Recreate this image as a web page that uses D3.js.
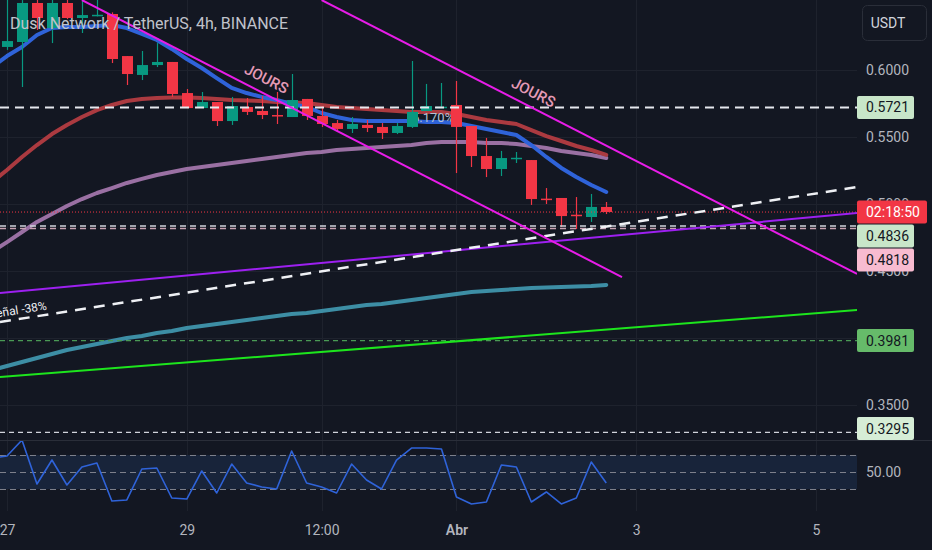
<!DOCTYPE html>
<html>
<head>
<meta charset="utf-8">
<script src="https://cdn.jsdelivr.net/npm/d3@7"></script>
<style>
    html, body { margin: 0; padding: 0; background: #131722; }
    svg { display: block; }
    text { font-family: Roboto, "Noto Sans", sans-serif; }
</style>
</head>
<body>
<div id="chart"></div>
<script>
const width = 932, height = 550;
const paneRight = 857;
const mainBottom = 440;
const oscTop = 441, oscBottom = 511;

const title = "Dusk Network / TetherUS, 4h, BINANCE";
const currency = "USDT";

// 4h bars, index 0 = 27 Mar 00:00
const opens  = [0.6172, 0.6209, 0.6500, 0.6313, 0.6500, 0.6388, 0.6405, 0.6418, 0.6104, 0.5963, 0.6037, 0.6060, 0.5828, 0.5716, 0.5761, 0.5619, 0.5724, 0.5694, 0.5664, 0.5649, 0.5784, 0.5657, 0.5604, 0.5560, 0.5590, 0.5575, 0.5530, 0.5575, 0.5694, 0.5720, 0.5739, 0.5582, 0.5358, 0.5261, 0.5340, 0.5328, 0.5040, 0.5045, 0.4920, 0.4903, 0.4978];
const highs  = [0.6560, 0.6522, 0.6560, 0.6560, 0.6540, 0.6522, 0.6530, 0.6430, 0.6104, 0.6142, 0.6201, 0.6060, 0.5858, 0.5836, 0.5761, 0.5799, 0.5791, 0.5806, 0.5836, 0.5970, 0.5784, 0.5731, 0.5627, 0.5649, 0.5627, 0.5604, 0.5604, 0.6067, 0.5896, 0.5903, 0.5918, 0.5582, 0.5493, 0.5396, 0.5388, 0.5328, 0.5119, 0.5045, 0.5052, 0.5075, 0.5015];
const lows   = [0.6150, 0.5873, 0.6299, 0.6201, 0.6380, 0.6276, 0.6400, 0.6052, 0.5888, 0.5925, 0.6022, 0.5799, 0.5716, 0.5716, 0.5582, 0.5590, 0.5664, 0.5634, 0.5597, 0.5649, 0.5627, 0.5575, 0.5537, 0.5530, 0.5537, 0.5485, 0.5522, 0.5567, 0.5694, 0.5716, 0.5231, 0.5276, 0.5201, 0.5209, 0.5306, 0.4993, 0.5000, 0.4828, 0.4813, 0.4866, 0.4925];
const closes = [0.6216, 0.6500, 0.6388, 0.6500, 0.6388, 0.6410, 0.6412, 0.6082, 0.5970, 0.6037, 0.6060, 0.5821, 0.5716, 0.5761, 0.5619, 0.5731, 0.5687, 0.5664, 0.5657, 0.5776, 0.5657, 0.5597, 0.5560, 0.5597, 0.5567, 0.5530, 0.5582, 0.5687, 0.5731, 0.5726, 0.5575, 0.5358, 0.5261, 0.5343, 0.5345, 0.5037, 0.5037, 0.4910, 0.4918, 0.4978, 0.4940];

// moving averages and oscillator start one bar earlier (index -1)
const maFast = [0.6022, 0.6104, 0.6172, 0.6261, 0.6313, 0.6321, 0.6321, 0.6328, 0.6336, 0.6313, 0.6269, 0.6224, 0.6157, 0.6082, 0.6015, 0.5940, 0.5866, 0.5828, 0.5799, 0.5776, 0.5746, 0.5724, 0.5679, 0.5649, 0.5627, 0.5619, 0.5619, 0.5619, 0.5619, 0.5612, 0.5612, 0.5604, 0.5582, 0.5560, 0.5537, 0.5515, 0.5440, 0.5351, 0.5269, 0.5201, 0.5142, 0.5090];
const maMid  = [0.5164, 0.5254, 0.5351, 0.5440, 0.5522, 0.5590, 0.5649, 0.5701, 0.5739, 0.5769, 0.5784, 0.5791, 0.5795, 0.5795, 0.5791, 0.5784, 0.5776, 0.5772, 0.5769, 0.5761, 0.5757, 0.5754, 0.5739, 0.5724, 0.5716, 0.5709, 0.5701, 0.5694, 0.5687, 0.5687, 0.5687, 0.5672, 0.5649, 0.5627, 0.5612, 0.5597, 0.5552, 0.5507, 0.5470, 0.5433, 0.5403, 0.5366];
const maSlow = [0.4642, 0.4716, 0.4791, 0.4866, 0.4925, 0.4985, 0.5037, 0.5082, 0.5119, 0.5157, 0.5187, 0.5216, 0.5239, 0.5261, 0.5276, 0.5291, 0.5306, 0.5321, 0.5336, 0.5351, 0.5366, 0.5381, 0.5388, 0.5403, 0.5410, 0.5418, 0.5425, 0.5433, 0.5440, 0.5455, 0.5463, 0.5463, 0.5463, 0.5455, 0.5455, 0.5448, 0.5433, 0.5418, 0.5396, 0.5381, 0.5366, 0.5343];
const maLong = [0.3761, 0.3791, 0.3821, 0.3851, 0.3881, 0.3910, 0.3933, 0.3955, 0.3978, 0.4000, 0.4015, 0.4037, 0.4052, 0.4075, 0.4090, 0.4104, 0.4119, 0.4134, 0.4149, 0.4164, 0.4179, 0.4187, 0.4201, 0.4216, 0.4231, 0.4246, 0.4254, 0.4269, 0.4284, 0.4299, 0.4313, 0.4328, 0.4343, 0.4351, 0.4358, 0.4366, 0.4373, 0.4377, 0.4381, 0.4384, 0.4388, 0.4396];
const rsi    = [66.5, 68.8, 87.6, 35.9, 64.1, 34.7, 55.9, 60.6, 15.9, 17.1, 53.5, 54.7, 19.4, 18.2, 51.2, 25.3, 59.4, 37.1, 32.4, 30.0, 74.7, 37.1, 32.4, 25.3, 59.4, 40.6, 30.0, 64.1, 78.2, 78.2, 77.1, 20.6, 12.4, 14.7, 58.2, 55.9, 14.7, 26.5, 12.4, 19.4, 61.8, 37.1];

const gridTicks = [0.60, 0.55, 0.50, 0.45, 0.40, 0.35];
const priceTicks = [0.60, 0.55, 0.50, 0.45, 0.35];
const timeTicks = [0, 12, 21, 30, 42, 54];
const timeLabels = ["27", "29", "12:00", "Abr", "3", "5"];
const oscLevels = [70, 50, 30];

const levels = [0.5721, 0.4836, 0.4818, 0.3981, 0.3295];
const countdown = "02:18:50";
const moveLabel = "5.170%";

// drawings: [bar index, price]
const channelTop = [[21.0, 0.6522], [56.74, 0.4478]];
const channelBottom = [[5.0, 0.6522], [41.05, 0.4455]];
const violetLine = [[-0.47, 0.4336], [56.74, 0.4933]];
const signalLine = [[-0.47, 0.4119], [56.74, 0.5127]];
const greenLine = [[-0.47, 0.3709], [56.74, 0.4209]];
const channelTag = "JOURS";
const signalTag = "Señal -38%";

const up = "#089981", down = "#f23645";
const axisText = "#b2b5be";
const gridColor = "#1e222d";

const x = d3.scaleLinear().domain([0, 54]).range([7, 816]);
const y = d3.scaleLinear().domain([0.35, 0.60]).range([405, 70]);
const yOsc = d3.scaleLinear().domain([30, 70]).range([489, 455]);

const svg = d3.select("#chart").append("svg")
    .attr("width", width)
    .attr("height", height);

svg.append("rect").attr("width", width).attr("height", height).attr("fill", "#131722");

const defs = svg.append("defs");
defs.append("clipPath").attr("id", "clip-main")
    .append("rect").attr("width", paneRight).attr("height", mainBottom);
defs.append("clipPath").attr("id", "clip-osc")
    .append("rect").attr("y", oscTop).attr("width", paneRight).attr("height", oscBottom - oscTop);

//grid
const grid = svg.append("g");
grid.selectAll("line.v").data(timeTicks).join("line")
    .attr("x1", d => Math.round(x(d)) + 0.5).attr("x2", d => Math.round(x(d)) + 0.5)
    .attr("y1", 0).attr("y2", oscBottom)
    .attr("stroke", gridColor);
grid.selectAll("line.h").data(gridTicks).join("line")
    .attr("x1", 0).attr("x2", paneRight)
    .attr("y1", d => Math.round(y(d)) + 0.5).attr("y2", d => Math.round(y(d)) + 0.5)
    .attr("stroke", gridColor);

svg.append("line")
    .attr("x1", 0).attr("x2", width)
    .attr("y1", mainBottom + 0.5).attr("y2", mainBottom + 0.5)
    .attr("stroke", "#2a2e39");

const main = svg.append("g").attr("clip-path", "url(#clip-main)");

//moving averages
const maLine = d3.line().x((d, k) => x(k - 1)).y(d => y(d));
const maStyles = [
    { data: maLong, color: "#3d8ea5" },
    { data: maSlow, color: "#9a70a3" },
    { data: maMid, color: "#ab3a40" },
    { data: maFast, color: "#2f63d9" }
];
main.selectAll("path.ma").data(maStyles).join("path")
    .attr("d", d => maLine(d.data))
    .attr("fill", "none")
    .attr("stroke", d => d.color)
    .attr("stroke-width", 4)
    .attr("stroke-linejoin", "round")
    .attr("stroke-linecap", "round");

main.append("text")
    .attr("x", 412).attr("y", 122)
    .attr("font-size", 13)
    .attr("fill", "#b4c0d4")
    .text(moveLabel);

//candles
const candles = opens.map((o, i) => ({ i, o, h: highs[i], l: lows[i], c: closes[i] }));
const bodyW = 11;
const candleG = main.append("g");
candleG.selectAll("line").data(candles).join("line")
    .attr("x1", d => Math.round(x(d.i)) + 0.5).attr("x2", d => Math.round(x(d.i)) + 0.5)
    .attr("y1", d => y(d.h)).attr("y2", d => y(d.l))
    .attr("stroke", d => d.c >= d.o ? up : down)
    .attr("stroke-width", 1.2);
candleG.selectAll("rect").data(candles).join("rect")
    .attr("x", d => Math.round(x(d.i)) + 0.5 - bodyW / 2)
    .attr("width", bodyW)
    .attr("y", d => y(Math.max(d.o, d.c)))
    .attr("height", d => Math.max(1.5, Math.abs(y(d.o) - y(d.c))))
    .attr("fill", d => d.c >= d.o ? up : down);

//horizontal levels
const levelStyles = [
    { stroke: "#e6e8ee", w: 2, dash: "9,6", box: "#c8e6c9", text: "#131722" },
    { stroke: "#d1d4dc", w: 1.5, dash: "6,4", box: "#c8e6c9", text: "#131722" },
    { stroke: "#c8a3b3", w: 1.5, dash: "6,4", box: "#f8bbd0", text: "#131722" },
    { stroke: "#4a9a55", w: 1.2, dash: "5,4", box: "#66bb6a", text: "#131722" },
    { stroke: "#d1d4dc", w: 1.2, dash: "5,4", box: "#d6edd6", text: "#131722" }
];
main.selectAll("line.level").data(levels).join("line")
    .attr("x1", 0).attr("x2", paneRight)
    .attr("y1", d => y(d)).attr("y2", d => y(d))
    .attr("stroke", (d, i) => levelStyles[i].stroke)
    .attr("stroke-width", (d, i) => levelStyles[i].w)
    .attr("stroke-dasharray", (d, i) => levelStyles[i].dash);

main.append("line")
    .attr("x1", 0).attr("x2", paneRight)
    .attr("y1", y(closes[closes.length - 1])).attr("y2", y(closes[closes.length - 1]))
    .attr("stroke", down)
    .attr("stroke-width", 1)
    .attr("stroke-dasharray", "1,2");

//drawings
const seg = d3.line().x(d => x(d[0])).y(d => y(d[1]));
const drawings = [
    { data: greenLine, color: "#1de51d", w: 2, dash: null },
    { data: violetLine, color: "#9d20f0", w: 2, dash: null },
    { data: signalLine, color: "#eef0f4", w: 2.5, dash: "11,8" },
    { data: channelBottom, color: "#e81ce8", w: 2, dash: null },
    { data: channelTop, color: "#e81ce8", w: 2, dash: null }
];
main.selectAll("path.draw").data(drawings).join("path")
    .attr("d", d => seg(d.data))
    .attr("fill", "none")
    .attr("stroke", d => d.color)
    .attr("stroke-width", d => d.w)
    .attr("stroke-dasharray", d => d.dash);

function tagOnLine(line, px, offset, label, anchor, size, weight, color) {
    const [a, b] = line;
    const x0 = x(a[0]), y0 = y(a[1]), x1 = x(b[0]), y1 = y(b[1]);
    const ang = Math.atan2(y1 - y0, x1 - x0);
    const py = y0 + (px - x0) * (y1 - y0) / (x1 - x0);
    const tx = px + Math.sin(ang) * offset;
    const ty = py - Math.cos(ang) * offset;
    main.append("text")
        .attr("transform", `translate(${tx},${ty}) rotate(${ang * 180 / Math.PI})`)
        .attr("text-anchor", anchor)
        .attr("font-size", size)
        .attr("font-weight", weight)
        .attr("fill", color)
        .text(label);
}
tagOnLine(channelBottom, 260, 9, channelTag, "middle", 15, 500, "#e59ab6");
tagOnLine(channelTop, 527, 9, channelTag, "middle", 15, 500, "#e59ab6");
tagOnLine(signalLine, 48, 5, signalTag, "end", 12, 400, "#eef0f4");

//oscillator pane
const osc = svg.append("g").attr("clip-path", "url(#clip-osc)");
osc.append("rect")
    .attr("x", 0).attr("width", paneRight)
    .attr("y", yOsc(70)).attr("height", yOsc(30) - yOsc(70))
    .attr("fill", "#18243a");
osc.selectAll("line.band").data(oscLevels).join("line")
    .attr("x1", 0).attr("x2", paneRight)
    .attr("y1", d => Math.round(yOsc(d)) + 0.5).attr("y2", d => Math.round(yOsc(d)) + 0.5)
    .attr("stroke", "#7d808b")
    .attr("stroke-dasharray", "6,4");
osc.append("path")
    .attr("d", d3.line().x((d, k) => x(k - 1)).y(d => yOsc(d))(rsi))
    .attr("fill", "none")
    .attr("stroke", "#2f63d9")
    .attr("stroke-width", 1.6)
    .attr("stroke-linejoin", "round");

//price axis
const axisG = svg.append("g")
    .attr("transform", `translate(${paneRight},0)`)
    .call(d3.axisRight(y).tickValues(priceTicks).tickFormat(d3.format(".4f")).tickSize(0).tickPadding(9));
axisG.select(".domain").remove();
axisG.selectAll("text").attr("font-size", 14).attr("fill", axisText).attr("font-family", "Roboto, sans-serif");

svg.append("text")
    .attr("x", paneRight + 9).attr("y", yOsc(50)).attr("dy", "0.35em")
    .attr("font-size", 14).attr("fill", axisText)
    .text(d3.format(".2f")(50));

//price label boxes, pushed apart like the platform does
const boxH = 23;
const boxes = levels.map((v, i) => ({
    text: d3.format(".4f")(v), cy: y(v), w: 57,
    fill: levelStyles[i].box, color: levelStyles[i].text
}));
boxes.push({ text: countdown, cy: y(closes[closes.length - 1]), w: 70, fill: down, color: "#ffffff" });
boxes.sort((a, b) => a.cy - b.cy);
let prevBottom = -Infinity;
boxes.forEach(b => {
    let top = Math.max(b.cy - boxH / 2, prevBottom + 1);
    if (top + boxH > mainBottom) top = mainBottom - boxH;
    b.top = top;
    prevBottom = top + boxH;
});
const boxG = svg.append("g").selectAll("g").data(boxes).join("g")
    .attr("transform", d => `translate(${paneRight},${d.top})`);
boxG.append("rect")
    .attr("width", d => d.w).attr("height", boxH)
    .attr("rx", 2)
    .attr("fill", d => d.fill);
boxG.append("text")
    .attr("x", 9).attr("y", boxH / 2).attr("dy", "0.36em")
    .attr("font-size", 14)
    .attr("fill", d => d.color)
    .text(d => d.text);

//time axis
const timeG = svg.append("g")
    .attr("transform", `translate(0,${oscBottom})`)
    .call(d3.axisBottom(x).tickValues(timeTicks).tickFormat((d, i) => timeLabels[i]).tickSize(0).tickPadding(14));
timeG.select(".domain").remove();
timeG.selectAll("text")
    .attr("font-size", 14)
    .attr("fill", axisText)
    .attr("font-family", "Roboto, sans-serif")
    .attr("font-weight", (d, i) => timeLabels[i] === "Abr" ? 600 : 400);

//currency button and legend
svg.append("rect")
    .attr("x", 862.5).attr("y", 5.5).attr("width", 64).attr("height", 35)
    .attr("rx", 5)
    .attr("fill", "#131722").attr("stroke", "#2a2e39");
svg.append("text")
    .attr("x", 888).attr("y", 23).attr("dy", "0.36em")
    .attr("text-anchor", "middle")
    .attr("font-size", 14).attr("fill", "#d1d4dc")
    .text(currency);

svg.append("text")
    .attr("x", 10).attr("y", 29)
    .attr("font-size", 16)
    .attr("fill", "#c0c3cb")
    .text(title);
</script>
</body>
</html>
